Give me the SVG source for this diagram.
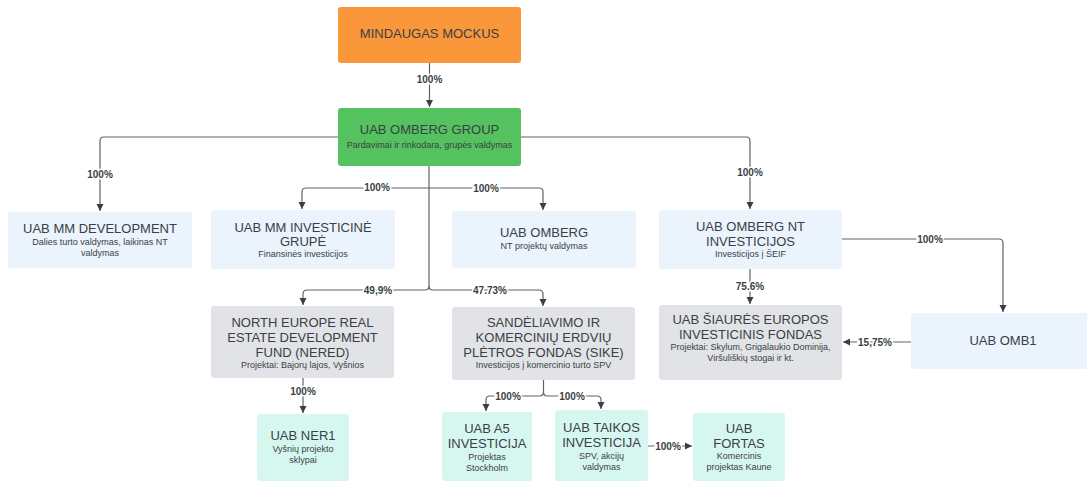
<svg xmlns="http://www.w3.org/2000/svg" width="1087" height="482" viewBox="0 0 1087 482">
<style>
.box{stroke:none}
.or{fill:#FA973A}.gr{fill:#54C25E}.bl{fill:#EBF3FD}.gy{fill:#E1E3E6}.tl{fill:#D6F7F0}
.t{font-family:"Liberation Sans",Arial,sans-serif;font-size:13px;fill:#3a3f45;text-anchor:middle}
.s{font-family:"Liberation Sans",Arial,sans-serif;font-size:9px;fill:#3a3f45;text-anchor:middle}
.c{fill:none;stroke:#5f6368;stroke-width:1.2}
.l{font-family:"Liberation Sans",Arial,sans-serif;font-size:10px;font-weight:bold;fill:#3a3f45;text-anchor:middle;stroke:#fff;stroke-width:3;paint-order:stroke}
</style>
<defs>
<marker id="ah" markerUnits="userSpaceOnUse" markerWidth="8" markerHeight="8" refX="7" refY="4" orient="auto">
<path d="M0,0.5 L7,4 L0,7.5 z" fill="#3a3f45"/>
</marker>
</defs>
<rect width="1087" height="482" fill="#fff"/>
<g id="connectors">
<path class="c" marker-end="url(#ah)" d="M429.5 63 V107"/>
<path class="c" marker-end="url(#ah)" d="M338 137 H104 Q100 137 100 141 V211"/>
<path class="c" marker-end="url(#ah)" d="M521 137 H746 Q750 137 750 141 V209"/>
<path class="c" d="M429 166 V286"/>
<path class="c" marker-end="url(#ah)" d="M429 188 H306 Q302 188 302 192 V209"/>
<path class="c" marker-end="url(#ah)" d="M429 188 H539 Q543 188 543 192 V210"/>
<path class="c" marker-end="url(#ah)" d="M429 286 Q429 290 425 290 H307 Q303 290 303 294 V305"/>
<path class="c" marker-end="url(#ah)" d="M429 286 Q429 290 433 290 H539 Q543 290 543 294 V306"/>
<path class="c" marker-end="url(#ah)" d="M842 239 H999 Q1003 239 1003 243 V312"/>
<path class="c" marker-end="url(#ah)" d="M750 269 V304"/>
<path class="c" marker-end="url(#ah)" d="M911 342 H843"/>
<path class="c" marker-end="url(#ah)" d="M303 378 V413"/>
<path class="c" marker-end="url(#ah)" d="M543.5 380 V392 Q543.5 396 539.5 396 H490 Q486 396 486 400 V411"/>
<path class="c" marker-end="url(#ah)" d="M543.5 392 Q543.5 396 547.5 396 H597 Q601 396 601 400 V409"/>
<path class="c" marker-end="url(#ah)" d="M648 446 H692"/>
<text class="l" x="429.5" y="82.5">100%</text>
<text class="l" x="100" y="177.5">100%</text>
<text class="l" x="750" y="175.5">100%</text>
<text class="l" x="377" y="191">100%</text>
<text class="l" x="486" y="191.5">100%</text>
<text class="l" x="378" y="293.5">49,9%</text>
<text class="l" x="490" y="293.5">47.73%</text>
<text class="l" x="930" y="242.5">100%</text>
<text class="l" x="750" y="289.5">75.6%</text>
<text class="l" x="875" y="345.5">15,75%</text>
<text class="l" x="303" y="394.5">100%</text>
<text class="l" x="508" y="399.5">100%</text>
<text class="l" x="572" y="399.5">100%</text>
<text class="l" x="668" y="449.5">100%</text>
</g>
<g id="mockus"><rect class="box or" x="338" y="7" width="183" height="56" rx="3"/><text class="t" x="429.5" y="37.5">MINDAUGAS MOCKUS</text></g>
<g id="omberg-group"><rect class="box gr" x="338" y="108" width="183" height="58" rx="3"/><text class="t" x="429.5" y="134">UAB OMBERG GROUP</text><text class="s" x="429.5" y="148">Pardavimai ir rinkodara, grupės valdymas</text></g>
<g id="mm-development"><rect class="box bl" x="8" y="212" width="184" height="56" rx="3"/><text class="t" x="100" y="233">UAB MM DEVELOPMENT</text><text class="s" x="100" y="245">Dalies turto valdymas, laikinas NT</text><text class="s" x="100" y="255.5">valdymas</text></g>
<g id="mm-investicine"><rect class="box bl" x="211" y="210" width="184" height="59" rx="3"/><text class="t" x="303" y="231.5">UAB MM INVESTICINĖ</text><text class="t" x="303" y="246">GRUPĖ</text><text class="s" x="303" y="257">Finansinės investicijos</text></g>
<g id="omberg"><rect class="box bl" x="452" y="211" width="184" height="57" rx="3"/><text class="t" x="544" y="236.5">UAB OMBERG</text><text class="s" x="544" y="249">NT projektų valdymas</text></g>
<g id="omberg-nt"><rect class="box bl" x="659" y="210" width="183" height="59" rx="3"/><text class="t" x="750.5" y="230.5">UAB OMBERG NT</text><text class="t" x="750.5" y="245.5">INVESTICIJOS</text><text class="s" x="750.5" y="257">Investicijos į ŠEIF</text></g>
<g id="nered"><rect class="box gy" x="211" y="306" width="183" height="72" rx="3"/><text class="t" x="302.5" y="326.5">NORTH EUROPE REAL</text><text class="t" x="302.5" y="341.5">ESTATE DEVELOPMENT</text><text class="t" x="302.5" y="356.5">FUND (NERED)</text><text class="s" x="302.5" y="368">Projektai: Bajorų lajos, Vyšnios</text></g>
<g id="sike"><rect class="box gy" x="452" y="307" width="183" height="73" rx="3"/><text class="t" x="543.5" y="326.5">SANDĖLIAVIMO IR</text><text class="t" x="543.5" y="341.5">KOMERCINIŲ ERDVIŲ</text><text class="t" x="543.5" y="356.5">PLĖTROS FONDAS (SIKE)</text><text class="s" x="543.5" y="368">Investicijos į komercinio turto SPV</text></g>
<g id="seif"><rect class="box gy" x="659" y="305" width="183" height="75" rx="3"/><text class="t" x="750.5" y="323.5">UAB ŠIAURĖS EUROPOS</text><text class="t" x="750.5" y="338.5">INVESTICINIS FONDAS</text><text class="s" x="750.5" y="350">Projektai: Skylum, Grigalaukio Dominija,</text><text class="s" x="750.5" y="361">Viršuliškių stogai ir kt.</text></g>
<g id="omb1"><rect class="box bl" x="911" y="313" width="184" height="56" rx="3"/><text class="t" x="1003" y="344.5">UAB OMB1</text></g>
<g id="ner1"><rect class="box tl" x="257" y="414" width="92" height="67" rx="3"/><text class="t" x="303" y="439.5">UAB NER1</text><text class="s" x="303" y="452">Vyšnių projekto</text><text class="s" x="303" y="463">sklypai</text></g>
<g id="a5"><rect class="box tl" x="442" y="412" width="90" height="69" rx="3"/><text class="t" x="487" y="432.5">UAB A5</text><text class="t" x="487" y="447.5">INVESTICIJA</text><text class="s" x="487" y="460">Projektas</text><text class="s" x="487" y="470.5">Stockholm</text></g>
<g id="taikos"><rect class="box tl" x="555" y="410" width="93" height="71" rx="3"/><text class="t" x="601.5" y="431.5">UAB TAIKOS</text><text class="t" x="601.5" y="446.5">INVESTICIJA</text><text class="s" x="601.5" y="459">SPV, akcijų</text><text class="s" x="601.5" y="469.5">valdymas</text></g>
<g id="fortas"><rect class="box tl" x="693" y="413" width="92" height="68" rx="3"/><text class="t" x="739" y="432.5">UAB</text><text class="t" x="739" y="447.5">FORTAS</text><text class="s" x="739" y="459">Komercinis</text><text class="s" x="739" y="470">projektas Kaune</text></g>
</svg>
